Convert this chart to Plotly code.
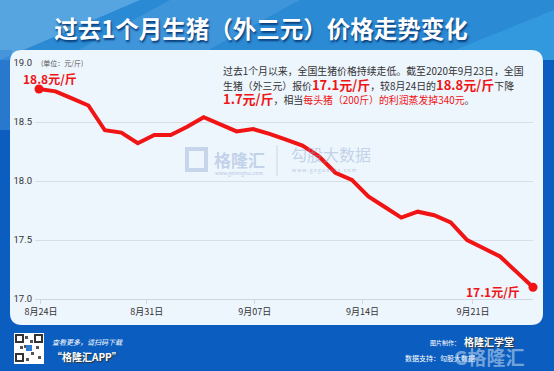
import plotly.graph_objects as go

# ---------------- data ----------------
dates = ["8月24日", "8月25日", "8月26日", "8月27日", "8月28日", "8月29日", "8月30日", "8月31日",
         "9月01日", "9月02日", "9月03日", "9月04日", "9月05日", "9月06日", "9月07日", "9月08日",
         "9月09日", "9月10日", "9月11日", "9月12日", "9月13日", "9月14日", "9月15日", "9月16日",
         "9月17日", "9月18日", "9月19日", "9月20日", "9月21日", "9月22日", "9月23日"]
prices = [18.78, 18.76, 18.70, 18.64, 18.43, 18.41, 18.32, 18.39, 18.39, 18.46, 18.54,
          18.48, 18.42, 18.44, 18.40, 18.35, 18.30, 18.21, 18.07, 18.01, 17.87, 17.78,
          17.69, 17.74, 17.71, 17.65, 17.50, 17.43, 17.36, 17.23, 17.10]
tick_labels = ["8月24日", "8月31日", "9月07日", "9月14日", "9月21日"]
tick_pos = [0.12, 6.54, 13.1, 19.65, 26.35]
y_ticks = [17.0, 17.5, 18.0, 18.5, 19.0]

# ---------------- layout geometry ----------------
W, H = 554, 371
ML, MR, MT, MB = 35, 21, 63, 72
PW, PH = W - ML - MR, H - MT - MB
FONT = "Noto Sans CJK SC"


def px(x):
    return (x - ML) / PW


def py(y):
    return (H - MB - y) / PH


idx = list(range(len(prices)))

fig = go.Figure()
fig.add_trace(go.Scatter(
    x=idx, y=prices, mode="lines",
    line=dict(color="#F01414", width=4), cliponaxis=False,
    hoverinfo="skip", showlegend=False))
fig.add_trace(go.Scatter(
    x=[idx[0], idx[-1]], y=[prices[0], prices[-1]], mode="markers",
    marker=dict(color="#F01414", size=9), cliponaxis=False,
    hoverinfo="skip", showlegend=False))

shapes = []
# header band
shapes.append(dict(type="rect", xref="paper", yref="paper", x0=px(0), x1=px(W), y0=py(0), y1=py(60),
                   fillcolor="#2B8AD4", line_width=0, layer="below"))
stripes = [
    (f"M {px(0)} {py(0)} L {px(140)} {py(0)} L {px(0)} {py(60)} Z", "rgba(140,195,240,0.45)"),
    (f"M {px(170)} {py(0)} L {px(300)} {py(0)} L {px(190)} {py(60)} L {px(60)} {py(60)} Z", "rgba(120,185,235,0.25)"),
    (f"M {px(430)} {py(60)} L {px(554)} {py(10)} L {px(554)} {py(60)} Z", "rgba(60,170,235,0.45)"),
]
for p, c in stripes:
    shapes.append(dict(type="path", xref="paper", yref="paper", path=p, fillcolor=c,
                       line_width=0, layer="below"))
shapes.append(dict(type="rect", xref="paper", yref="paper", x0=px(0), x1=px(12), y0=py(50), y1=py(130),
                   fillcolor="rgba(60,140,215,0.6)", line_width=0, layer="below"))

# rounded panel
x0, x1, y0, y1, r = 10, 543, 50, 325, 12
panel = (f"M {px(x0 + r)} {py(y0)} L {px(x1 - r)} {py(y0)} "
         f"Q {px(x1)} {py(y0)} {px(x1)} {py(y0 + r)} L {px(x1)} {py(y1 - r)} "
         f"Q {px(x1)} {py(y1)} {px(x1 - r)} {py(y1)} L {px(x0 + r)} {py(y1)} "
         f"Q {px(x0)} {py(y1)} {px(x0)} {py(y1 - r)} L {px(x0)} {py(y0 + r)} "
         f"Q {px(x0)} {py(y0)} {px(x0 + r)} {py(y0)} Z")
shapes.append(dict(type="path", xref="paper", yref="paper", path=panel,
                   fillcolor="#EDF5FD", line_width=0, layer="below"))

# watermark: G logo box + separator
shapes.append(dict(type="rect", xref="paper", yref="paper", x0=px(187), x1=px(206), y0=py(149), y1=py(170),
                   fillcolor="rgba(0,0,0,0)", line=dict(color="rgba(150,175,210,0.45)", width=4), layer="below"))
shapes.append(dict(type="line", xref="paper", yref="paper", x0=px(277), x1=px(277), y0=py(145), y1=py(176),
                   line=dict(color="rgba(170,190,215,0.5)", width=1), layer="below"))

# QR code
shapes.append(dict(type="rect", xref="paper", yref="paper", x0=px(14), x1=px(44), y0=py(333), y1=py(364),
                   fillcolor="white", line_width=0))
for (qx, qy) in [(16, 335), (35, 335), (16, 354)]:
    shapes.append(dict(type="rect", xref="paper", yref="paper", x0=px(qx), x1=px(qx + 7), y0=py(qy), y1=py(qy + 7),
                       fillcolor="white", line=dict(color="#333", width=2)))
for (qx, qy) in [(25, 336), (30, 340), (24, 345), (36, 346), (31, 352), (38, 356), (26, 358), (20, 346)]:
    shapes.append(dict(type="rect", xref="paper", yref="paper", x0=px(qx), x1=px(qx + 3), y0=py(qy), y1=py(qy + 3),
                       fillcolor="#555", line_width=0))
shapes.append(dict(type="rect", xref="paper", yref="paper", x0=px(26), x1=px(32), y0=py(345), y1=py(351),
                   fillcolor="#2E7BD6", line_width=0))

annotations = []


def add_text(x, y, text, size, color, xanchor="left", yanchor="middle", bold=False, **kw):
    annotations.append(dict(
        x=px(x), y=py(y), xref="paper", yref="paper", text=text, showarrow=False,
        xanchor=xanchor, yanchor=yanchor, align="left",
        font=dict(family=FONT, size=size, color=color, weight=700 if bold else 400, **kw)))


# unit label
annotations.append(dict(x=px(39), y=py(63), xref="paper", yref="paper", text="(单位：元/斤)",
                        showarrow=False, xanchor="left", yanchor="middle", bgcolor="#EDF5FD",
                        borderpad=1, font=dict(family=FONT, size=7, color="#555")))

# value labels
add_text(21, 78, f"{prices[0]:.1f}元/斤", 12, "#F01414", bold=True)
add_text(522, 291, f"{prices[-1]:.1f}元/斤", 12, "#F01414", xanchor="right", bold=True)

# description paragraph
n = "<span style='font-size:9.9px'>"
red_b = "<span style='color:#F01414;font-size:13px;font-weight:bold'>"
red = "<span style='color:#F01414;font-size:9.9px'>"
para = (f"{n}过去1个月以来，全国生猪价格持续走低。截至2020年9月23日，全国</span><br>"
        f"{n}生猪（外三元）报价</span>{red_b}17.1元/斤</span>{n}，较8月24日的</span>{red_b}18.8元/斤</span>{n}下降</span><br>"
        f"{red_b}1.7元/斤</span>{n}，相当</span>{red}每头猪（200斤）的利润蒸发掉340元</span>{n}。</span>")
annotations.append(dict(x=px(221), y=py(62), xref="paper", yref="paper", text=para, showarrow=False,
                        xanchor="left", yanchor="top", align="left",
                        font=dict(family=FONT, size=11.2, color="#333333")))

# watermarks
add_text(212, 159, "格隆汇", 17, "rgba(140,165,205,0.45)", bold=True)
add_text(213, 173, "www.gelonghui.com", 5, "rgba(140,165,205,0.6)")
add_text(289, 154, "勾股大数据", 16, "rgba(140,165,205,0.45)")
add_text(290, 170, "w w w . g o g u d a t a . c o m", 5, "rgba(140,165,205,0.6)")

# footer
add_text(50, 342, "<i>查看更多，请扫码下载</i>", 7, "white")
add_text(50, 356, "<b>“格隆汇APP”</b>", 10, "white", shadow="1px 1px 1px #333")
add_text(462, 342, "图片制作：", 6, "white", xanchor="right")
add_text(462, 341, "<b>格隆汇学堂</b>", 10, "white", shadow="1px 1px 1px #333")
add_text(403, 358, "数据支持：勾股大数据", 7, "white")
add_text(452, 356, "G格隆汇", 19, "rgba(210,225,245,0.55)", bold=True)

fig.update_layout(
    width=W, height=H,
    margin=dict(l=ML, r=MR, t=MT, b=MB),
    paper_bgcolor="#0B5EBF", plot_bgcolor="rgba(0,0,0,0)",
    title=dict(text="过去1个月生猪（外三元）价格走势变化", x=px(261), xref="paper", xanchor="center",
               y=1 - 30 / H, yanchor="middle", yref="container",
               font=dict(family=FONT, size=23.5, color="white", weight=700, shadow="1px 2px 2px #0a3d7a")),
    xaxis=dict(range=[-0.243, 30.0], tickvals=tick_pos, ticktext=tick_labels,
               showgrid=False, zeroline=False, showline=True, linecolor="#CFD8E2", linewidth=1,
               ticks="outside", ticklen=4, tickcolor="#CFD8E2",
               tickfont=dict(family=FONT, size=9, color="#333333")),
    yaxis=dict(range=[17.0, 19.0], tickvals=y_ticks, ticktext=[f"{v:.1f}" for v in y_ticks],
               showgrid=True, gridcolor="#D6DEE7", gridwidth=1, zeroline=False, showline=False,
               ticks="", ticklabelstandoff=2,
               tickfont=dict(family="Roboto", size=9.5, color="#333333")),
    shapes=shapes, annotations=annotations,
)

fig.write_html("out.html", config={"displayModeBar": False},
               post_script="document.body.style.margin='0px';document.body.style.padding='0px';")
